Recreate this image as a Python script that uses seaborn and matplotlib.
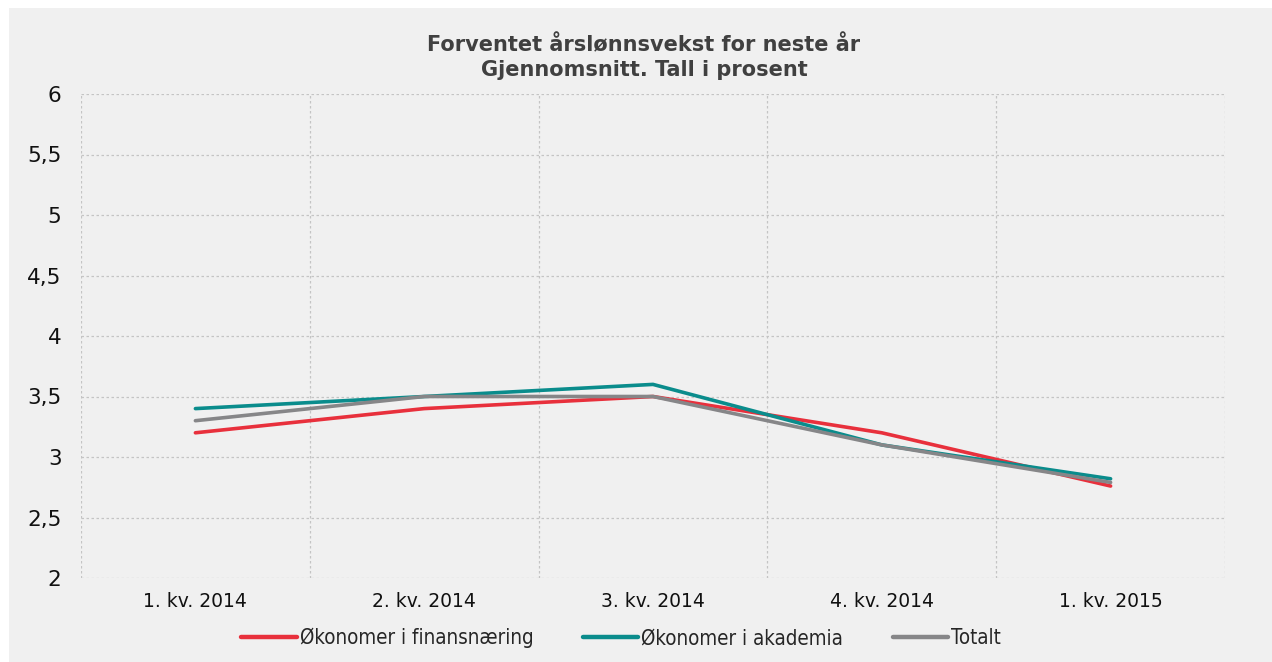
import pandas as pd
import seaborn as sns
import matplotlib.pyplot as plt
from matplotlib.patches import Rectangle

kvartaler = ["1. kv. 2014", "2. kv. 2014", "3. kv. 2014", "4. kv. 2014", "1. kv. 2015"]
finans = [3.2, 3.4, 3.5, 3.2, 2.76]
akademia = [3.4, 3.5, 3.6, 3.1, 2.82]
totalt = [3.3, 3.5, 3.5, 3.1, 2.79]
serier = ["Økonomer i finansnæring", "Økonomer i akademia", "Totalt"]
farger = ["#e8303c", "#0a8c8c", "#868688"]
yticks = [2, 2.5, 3, 3.5, 4, 4.5, 5, 5.5, 6]
ylabels = ["2", "2,5", "3", "3,5", "4", "4,5", "5", "5,5", "6"]

df = pd.DataFrame({
    "kvartal": kvartaler * 3,
    "verdi": finans + akademia + totalt,
    "serie": [s for s in serier for _ in kvartaler],
})

sns.set_style("white")
plt.rcParams["font.family"] = ["DejaVu Sans"]
bg = "#f0f0f0"

fig = plt.figure(figsize=(12.72, 6.62), dpi=100)
fig.patch.set_facecolor(bg)
# white strips on top and left edge
fig.patches.append(Rectangle((0, 1 - 8 / 662), 1, 8 / 662, transform=fig.transFigure,
                             facecolor="white", edgecolor="none"))
fig.patches.append(Rectangle((0, 0), 9 / 1272, 1, transform=fig.transFigure,
                             facecolor="white", edgecolor="none"))
ax = fig.add_axes([81 / 1272, 1 - 578 / 662, (1225 - 81) / 1272, (578 - 94) / 662])
ax.set_facecolor(bg)

sns.lineplot(data=df, x="kvartal", y="verdi", hue="serie", palette=farger,
             sort=False, linewidth=2.6, ax=ax, legend=True)

ax.set_xlim(-0.5, 4.5)
ax.set_ylim(2, 6)
ax.set_yticks(yticks)
ax.set_yticklabels(ylabels, fontsize=15.5, color="#111111")
ax.set_xticks(range(len(kvartaler)))
ax.set_xticklabels(kvartaler, fontsize=13.5, color="#111111")
ax.set_xticks([i - 0.5 for i in range(len(kvartaler) + 1)], minor=True)
ax.tick_params(axis="y", length=0, pad=14)
ax.tick_params(axis="x", which="both", length=0, pad=10)
ax.grid(False)
ax.yaxis.grid(True, color="#c4c4c4", linestyle=(0, (2, 2)), linewidth=0.9)
ax.xaxis.grid(True, which="minor", color="#c4c4c4", linestyle=(0, (2, 2)), linewidth=0.9)
for s in ax.spines.values():
    s.set_visible(False)
ax.set_xlabel("")
ax.set_ylabel("")

handles, labels = ax.get_legend_handles_labels()
for h in handles:
    h.set_linewidth(3.2)
ax.get_legend().remove()
fig.legend(handles, labels, loc="center", bbox_to_anchor=(621 / 1272, 1 - 638 / 662),
           ncol=3, frameon=False, handlelength=2.7, handletextpad=0.15,
           columnspacing=2.4, prop={"family": "DejaVu Sans", "stretch": "condensed", "size": 14.8})

fig.text(644 / 1272, 1 - 57 / 662, "Forventet årslønnsvekst for neste år\nGjennomsnitt. Tall i prosent",
         ha="center", va="center", fontsize=15, fontweight="bold", color="#404040", linespacing=1.3)

fig.savefig("out.png", dpi=100, facecolor=fig.get_facecolor())
